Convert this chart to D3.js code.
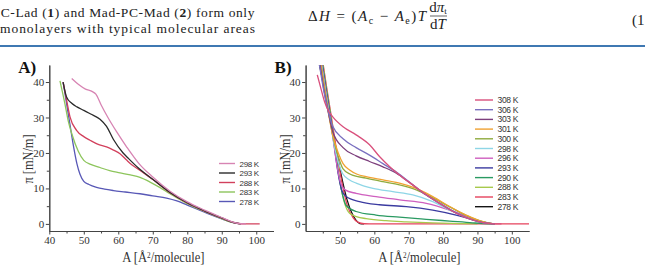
<!DOCTYPE html>
<html>
<head>
<meta charset="utf-8">
<script src="https://cdn.jsdelivr.net/npm/d3@7"></script>
<style>
  body { margin: 0; background: #fff; }
  svg { display: block; }
  .serif { font-family: 'Liberation Serif', 'DejaVu Serif', serif; }
  .axis path, .axis line { stroke: #444; stroke-width: 1; }
  .axis text { fill: #333; font-family: 'Liberation Serif', 'DejaVu Serif', serif; font-size: 11px; }
</style>
</head>
<body>
<svg id="fig" width="645" height="272"></svg>
<script>
// ---- data ----
const xTicks = [40, 50, 60, 70, 80, 90, 100];
const yTicks = [0, 10, 20, 30, 40];

// panel A: isotherms of compound 1
const labelsA = ["298 K", "293 K", "288 K", "283 K", "278 K"];
const colorsA = ["#d784b3", "#2b2b2b", "#d2405c", "#8dc55c", "#5858b6"];
const a298 = [[46.5,41],[48.5,39.3],[50.5,38],[52.5,37.3],[53.5,36.6],[55,33.6],[57,30],[59.5,26],[62.5,21.6],[66,17],[70,13.2],[75,9.2],[80,6.2],[85,3.9],[90,1.8],[93,0.6],[95.5,0.05],[97,0]];
const a293 = [[44,40],[45,35.8],[46.5,34],[48,33],[50,32],[52,31],[54.7,29.5],[56.6,27.5],[58.6,23.8],[61.4,20],[63,18.4],[66,15.6],[70,12.6],[75,8.9],[80,6],[85,3.7],[90,1.7],[93,0.5],[95.5,0]];
const a288 = [[44,40],[45,35],[46,30.2],[47.9,26.4],[50,24.6],[51.8,23.6],[54,22.5],[56.6,21.7],[58.6,20.8],[60.5,19.8],[62.4,18],[64,16.6],[66,15.3],[70,12.5],[75,8.8],[80,5.9],[85,3.6],[90,1.6],[93,0.5],[95.5,0.05],[98,0],[101,0]];
const a283 = [[43.1,40.3],[44.5,34],[45.5,29],[46.5,25.5],[48.4,20.5],[50,17.9],[52,16.8],[54.7,15.9],[57.5,15],[60.5,14.4],[63.5,13.8],[66.3,13.1],[69.2,11.8],[72,10.3],[75,8.5],[80,5.7],[85,3.5],[90,1.5],[93,0.4],[95.5,0]];
const a278 = [[44,40],[45,34],[46,28],[47,22],[48,17],[48.9,14],[50,12],[51.5,11.1],[53.7,10.3],[56,9.8],[58.6,9.4],[62,9],[66.3,8.5],[70,7.9],[74,7.3],[77,6.5],[80,5.3],[85,3.3],[90,1.4],[93,0.4],[95.5,0]];
const seriesA = [a298, a293, a288, a283, a278];

// panel B: isotherms of compound 2
const labelsB = ["308 K", "306 K", "303 K", "301 K", "300 K", "298 K", "296 K", "293 K", "290 K", "288 K", "283 K", "278 K"];
const colorsB = ["#d9507c", "#7a70c0", "#7d3f7d", "#f0a232", "#8fab3e", "#8ed6e6", "#cf5fbf", "#3b3ba0", "#2a9a62", "#a7c94c", "#e6425c", "#151515"];
const b308 = [[43.4,42],[44.5,38],[45.5,34.5],[46.5,32.1],[47.9,30.2],[50.9,27.4],[54.7,25.1],[58.6,22.3],[61.5,19],[64.4,16.2],[67.3,13.8],[71.2,11],[75.1,8.2],[79,5.8],[83.8,3],[88.6,1.1],[92,0.3],[95,0],[97,0]];
const b306 = [[44,45],[45.2,38],[46.5,32],[47.9,27.5],[50.9,24],[54.7,21.5],[58.6,19.4],[62.5,17],[66.4,14.6],[70.2,11.8],[75,8.2],[79,5.8],[84,3],[88.6,1.1],[92,0.3],[95,0]];
const b303 = [[44.2,45],[45.3,38],[46.5,32],[47.9,26],[50.9,21.5],[54.7,19.2],[58.6,17.6],[62.5,16.1],[66.4,14.3],[70.2,11.7],[75,8.2],[79,5.8],[84,3],[88.6,1.1],[92,0.3],[95,0]];
const b301 = [[44.4,45],[45.5,38],[46.5,32],[47.9,25],[49.5,20],[50.9,17],[52.8,15.2],[55,14],[57.6,13.3],[62.5,12.4],[67.3,11.5],[72.2,10],[77,7.7],[81.9,4.9],[86.7,2.5],[90.6,0.9],[93,0.3],[95,0]];
const b300 = [[44.5,45],[45.6,38],[46.6,32],[48,24.5],[49.5,19],[50.9,15.5],[53,14],[57.6,12.9],[62.5,11.9],[67.3,11],[72.2,9.6],[77,7.4],[81.9,4.8],[86.7,2.4],[90.6,0.9],[93,0.3],[95,0]];
const b298 = [[44.6,45],[45.7,38],[46.7,32],[48,24],[49.5,17.5],[50.9,14],[52.8,12.4],[54.7,11.5],[59.6,10],[65.4,9.1],[71.2,8.2],[77,6.3],[82.8,3.5],[88.6,1.1],[92,0.3],[95,0]];
const b296 = [[44.7,45],[45.8,38],[46.8,32],[48,24],[49.2,16],[50.2,11.5],[51.5,9.6],[54.7,8.6],[60.5,7.7],[67.3,6.8],[75.1,5.8],[81.9,3.9],[88.6,1.5],[92,0.4],[95,0]];
const b293 = [[44.8,45],[45.9,38],[46.9,32],[48.2,23],[49.5,14],[50.5,9.5],[51.8,7.7],[55.7,6.3],[61.5,5.4],[69.3,4.9],[77,3.9],[83.8,2.5],[89.6,1],[93,0.3],[95,0]];
const b290 = [[44.9,45],[46,38],[47,32],[48.3,23],[49.6,14],[50.8,8],[51.8,5.2],[54.7,3.5],[60.5,2.5],[67.3,1.9],[75.1,1.3],[81.9,0.8],[88.6,0.3],[93,0.05],[95,0]];
const b288 = [[45,45],[46.1,38],[47.1,32],[48.5,22],[50,12],[51.3,6],[52.8,3],[55,2],[57.6,1.5],[63.4,0.9],[69.3,0.6],[77,0.3],[84.8,0.1],[90,0]];
const b283 = [[45.1,45],[46.2,38],[47.2,32],[48.8,22],[50.5,12],[52.2,5],[53.8,1.8],[55.2,0.5],[57,0.05],[60,0],[105,0]];
const b278 = [[44,45],[45.5,38],[46.7,32],[48.5,23],[50.3,14],[52,7],[53.5,3],[54.7,1],[55.8,0.1],[57,0]];
const seriesB = [b308, b306, b303, b301, b300, b298, b296, b293, b290, b288, b283, b278];

const svg = d3.select('#fig');
svg.append('rect').attr('width', 645).attr('height', 272).attr('fill', '#fff');

// ---- bit of article text above the figure ----
const intro = svg.append('g').attr('class', 'serif').attr('font-size', 13.5).attr('fill', '#222');
intro.append('text').attr('x', -7.5).attr('y', 17)
  .attr('textLength', 262).attr('lengthAdjust', 'spacing')
  .html('PC-Lad (<tspan font-weight="bold">1</tspan>) and Mad-PC-Mad (<tspan font-weight="bold">2</tspan>) form only');
intro.append('text').attr('x', 0).attr('y', 33)
  .attr('textLength', 255).attr('lengthAdjust', 'spacing')
  .text('monolayers with typical molecular areas');

const eq = svg.append('g').attr('class', 'serif').attr('font-size', 15).attr('fill', '#222');
eq.append('text').attr('x', 308).attr('y', 21)
  .attr('textLength', 118).attr('lengthAdjust', 'spacing')
  .html('Δ<tspan font-style="italic">H</tspan> = (<tspan font-style="italic">A</tspan><tspan dy="3" font-size="10">c</tspan><tspan dy="-3"> − </tspan><tspan font-style="italic">A</tspan><tspan dy="3" font-size="10">e</tspan><tspan dy="-3">)</tspan><tspan font-style="italic">T</tspan>');
eq.append('text').attr('x', 438).attr('y', 12).attr('text-anchor', 'middle')
  .html('d<tspan font-style="italic">π</tspan><tspan dy="2" font-size="9">t</tspan>');
eq.append('line').attr('x1', 430).attr('x2', 447).attr('y1', 16).attr('y2', 16)
  .attr('stroke', '#222').attr('stroke-width', 0.7);
eq.append('text').attr('x', 438).attr('y', 29).attr('text-anchor', 'middle')
  .html('d<tspan font-style="italic">T</tspan>');
eq.append('text').attr('x', 632).attr('y', 25).text('(1');

svg.append('line').attr('x1', 0).attr('x2', 645).attr('y1', 46).attr('y2', 46)
  .attr('stroke', '#3f78b2').attr('stroke-width', 2);

// ---- one panel ----
function drawPanel(opts) {
  const x = d3.scaleLinear().domain([40, 105]).range([opts.left, opts.right]);
  const y = d3.scaleLinear().domain([-2, 44.8]).range([231, 65]);
  const g = svg.append('g');

  // minor ticks
  g.append('g').attr('class', 'axis').attr('transform', 'translate(0,231)')
    .call(d3.axisBottom(x).tickValues(d3.range(45, 105, 10)).tickSize(2.5).tickFormat('').tickSizeOuter(0));
  g.append('g').attr('class', 'axis').attr('transform', `translate(${opts.left},0)`)
    .call(d3.axisLeft(y).tickValues([5, 15, 25, 35]).tickSize(2.5).tickFormat('').tickSizeOuter(0));

  // major ticks
  g.append('g').attr('class', 'axis').attr('transform', 'translate(0,231)')
    .call(d3.axisBottom(x).tickValues(opts.xTicks).tickSize(3.5).tickPadding(1.5).tickSizeOuter(0));
  g.append('g').attr('class', 'axis').attr('transform', `translate(${opts.left},0)`)
    .call(d3.axisLeft(y).tickValues(yTicks).tickSize(3.5).tickPadding(1.5).tickSizeOuter(0));

  // axis titles (narrow face as in the figure)
  const cx = (opts.left + opts.right) / 2 + 2;
  g.append('g').attr('transform', `translate(${cx},262) scale(0.9,1)`)
    .append('text').attr('class', 'serif').attr('text-anchor', 'middle')
    .attr('font-size', 14).attr('fill', '#333')
    .html('A [Å<tspan dy="-4.5" font-size="8">2</tspan><tspan dy="4.5">/molecule]</tspan>');
  g.append('text').attr('class', 'serif').attr('transform', `translate(${opts.left - 16},159) rotate(-90)`)
    .attr('text-anchor', 'middle').attr('font-size', 14.5).attr('fill', '#333')
    .attr('textLength', 49).attr('lengthAdjust', 'spacingAndGlyphs')
    .text('π [mN/m]');

  // panel letter
  g.append('text').attr('class', 'serif').attr('x', opts.left - 31).attr('y', 73)
    .attr('font-size', 17).attr('font-weight', 'bold').attr('fill', '#111')
    .text(opts.letter);

  // curves
  const clipId = 'clip' + opts.letter[0];
  svg.append('clipPath').attr('id', clipId).append('rect')
    .attr('x', opts.left).attr('y', 65).attr('width', opts.right - opts.left).attr('height', 166);
  const line = d3.line().x(d => x(d[0])).y(d => y(d[1])).curve(d3.curveMonotoneX);
  const curves = g.append('g').attr('clip-path', `url(#${clipId})`);
  opts.series.slice().reverse().forEach((s, i) => {
    const k = opts.series.length - 1 - i;
    curves.append('path').datum(s).attr('d', line)
      .attr('fill', 'none').attr('stroke', opts.colors[k]).attr('stroke-width', 1.3);
  });

  // legend
  const lg = g.append('g');
  opts.labels.forEach((lab, i) => {
    const yy = opts.legY + i * opts.legStep;
    lg.append('line').attr('x1', opts.legX).attr('x2', opts.legX + opts.legLen)
      .attr('y1', yy).attr('y2', yy).attr('stroke', opts.colors[i]).attr('stroke-width', 1.4);
    lg.append('text').attr('x', opts.legX + opts.legLen + 4.5).attr('y', yy + 3)
      .attr('font-family', "'Liberation Sans', Arial, sans-serif").attr('font-size', opts.legFont)
      .attr('fill', '#333').attr('letter-spacing', -0.3).text(lab);
  });
}

drawPanel({
  letter: 'A)', left: 49.3, right: 273.5, xTicks: xTicks,
  series: seriesA, colors: colorsA, labels: labelsA,
  legX: 219, legLen: 16, legY: 163.5, legStep: 9.5, legFont: 8
});
drawPanel({
  letter: 'B)', left: 305.6, right: 529, xTicks: xTicks.slice(1),
  series: seriesB, colors: colorsB, labels: labelsB,
  legX: 475, legLen: 18, legY: 100, legStep: 9.7, legFont: 8.5
});
</script>
</body>
</html>
